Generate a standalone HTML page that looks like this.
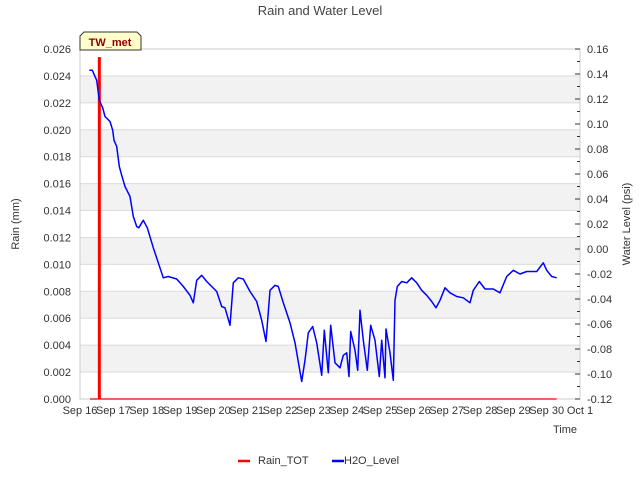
<!DOCTYPE html>
<html><head><meta charset="utf-8"><style>
body{margin:0;background:#fff;}
svg{display:block;font-family:"Liberation Sans","DejaVu Sans",sans-serif;}
</style></head><body>
<svg id="chart" width="640" height="480" viewBox="0 0 640 480"></svg>
<script>
const dayLabels=["Sep 16","Sep 17","Sep 18","Sep 19","Sep 20","Sep 21","Sep 22","Sep 23","Sep 24","Sep 25","Sep 26","Sep 27","Sep 28","Sep 29","Sep 30","Oct 1"];
const leftTicks=[0,0.002,0.004,0.006,0.008,0.010,0.012,0.014,0.016,0.018,0.020,0.022,0.024,0.026];
const rightTicks=[-0.12,-0.10,-0.08,-0.06,-0.04,-0.02,0.00,0.02,0.04,0.06,0.08,0.10,0.12,0.14,0.16];
const rainDays=[0.58];
const rainVals=[0.0254];
const waterDays=[0.28,0.37,0.50,0.58,0.68,0.75,0.90,0.98,1.02,1.10,1.18,1.25,1.35,1.50,1.60,1.70,1.76,1.90,2.02,2.20,2.35,2.50,2.65,2.90,3.10,3.30,3.40,3.50,3.65,3.80,4.10,4.25,4.35,4.50,4.60,4.75,4.90,5.10,5.30,5.45,5.58,5.70,5.85,5.95,6.10,6.30,6.45,6.65,6.75,6.85,6.98,7.10,7.25,7.33,7.45,7.52,7.65,7.80,7.90,8.00,8.07,8.12,8.25,8.33,8.40,8.50,8.62,8.72,8.85,8.98,9.05,9.15,9.18,9.30,9.40,9.45,9.52,9.65,9.80,9.95,10.10,10.25,10.40,10.55,10.68,10.80,10.95,11.10,11.30,11.50,11.70,11.80,11.98,12.15,12.40,12.60,12.80,13.00,13.20,13.40,13.70,13.90,14.00,14.15,14.30];
const waterVals=[0.143,0.143,0.135,0.119,0.113,0.106,0.102,0.095,0.087,0.082,0.066,0.059,0.050,0.042,0.026,0.018,0.017,0.023,0.017,0.001,-0.011,-0.023,-0.022,-0.024,-0.030,-0.037,-0.043,-0.025,-0.021,-0.026,-0.034,-0.046,-0.047,-0.061,-0.027,-0.023,-0.024,-0.034,-0.042,-0.057,-0.074,-0.033,-0.029,-0.030,-0.043,-0.059,-0.075,-0.106,-0.089,-0.067,-0.062,-0.075,-0.101,-0.065,-0.099,-0.061,-0.091,-0.095,-0.085,-0.083,-0.102,-0.066,-0.081,-0.097,-0.049,-0.073,-0.097,-0.061,-0.073,-0.102,-0.073,-0.103,-0.064,-0.083,-0.105,-0.041,-0.030,-0.026,-0.027,-0.023,-0.027,-0.033,-0.037,-0.042,-0.047,-0.041,-0.031,-0.035,-0.038,-0.039,-0.043,-0.033,-0.026,-0.032,-0.032,-0.035,-0.022,-0.017,-0.020,-0.018,-0.018,-0.011,-0.017,-0.022,-0.023];

const X0=80,X1=580,Y0=399,Y1=49;
const xs=d=>X0+(d/15)*(X1-X0);
const yL=v=>Y0-(v/0.026)*(Y0-Y1);
const yR=v=>Y0-((v+0.12)/0.28)*(Y0-Y1);
const svg=document.getElementById('chart');
const NS='http://www.w3.org/2000/svg';
function mk(tag,attrs,parent){const e=document.createElementNS(NS,tag);for(const k in attrs)e.setAttribute(k,attrs[k]);(parent||svg).appendChild(e);return e;}

// bands + grid
for(let i=0;i<leftTicks.length-1;i++){
  if(i%2===1){
    const r=mk('rect',{x:X0,y:yL(leftTicks[i+1]),width:X1-X0,height:yL(leftTicks[i])-yL(leftTicks[i+1]),fill:'#f2f2f2'});
    
    
  }
}
leftTicks.forEach(v=>{
  const l=mk('line',{x1:X0,x2:X1,y1:yL(v),y2:yL(v),stroke:'#dcdcdc','stroke-width':1});
  
  
  const t=mk('text',{x:71,y:yL(v)+4,'text-anchor':'end','font-size':11,fill:'#333'});
  t.textContent=v.toFixed(3);
  
  
});
// frame
const fr=mk('rect',{x:X0,y:Y1,width:X1-X0,height:Y0-Y1,fill:'none',stroke:'#ccc','stroke-width':1});


// right ticks
rightTicks.forEach((v,i)=>{
  const y=yR(v);
  const tk=mk('line',{x1:X1-5,x2:X1,y1:y,y2:y,stroke:'#333'});
  
  
  if(i<rightTicks.length-1){
    const ym=yR(v+0.01);
    const mt=mk('line',{x1:X1-3,x2:X1,y1:ym,y2:ym,stroke:'#333'});
    
    
  }
  const t=mk('text',{x:587,y:y+4,'font-size':11,fill:'#333'});
  t.textContent=v.toFixed(2);
  
  
});
// x labels
dayLabels.forEach((s,i)=>{
  const t=mk('text',{x:xs(i),y:414,'text-anchor':'middle','font-size':11,fill:'#333'});
  t.textContent=s;
  
  
});
// rain baseline
const rb=mk('line',{x1:xs(0.3),x2:xs(14.3),y1:yL(0),y2:yL(0),stroke:'#e00','stroke-width':1.2});


rainDays.forEach((d,i)=>{
  const b=mk('rect',{x:xs(d)-1.5,y:yL(rainVals[i]),width:3,height:yL(0)-yL(rainVals[i]),fill:'#f00'});
  
  
});
// water line
const pts=waterDays.map((d,i)=>xs(d).toFixed(1)+','+yR(waterVals[i]).toFixed(1)).join(' ');
const wl=mk('polyline',{points:pts,fill:'none',stroke:'#00f','stroke-width':1.5,'stroke-linejoin':'round'});


</script>
<svg style="position:absolute;left:0;top:0" width="640" height="480">
<text x="320" y="15" text-anchor="middle" font-size="13" fill="#444">Rain and Water Level</text>
<path d="M84,32 L137,32 L141,36 L141,50 L80,50 L80,36 Z" fill="#ffffcc" stroke="#333"/>
<text x="110" y="46" text-anchor="middle" font-size="11" font-weight="bold" fill="#8b0000">TW_met</text>
<text x="19" y="224" text-anchor="middle" font-size="11" fill="#333" transform="rotate(-90 19 224)">Rain (mm)</text>
<text x="630" y="224" text-anchor="middle" font-size="11" fill="#333" transform="rotate(-90 630 224)">Water Level (psi)</text>
<text x="565" y="433" text-anchor="middle" font-size="11" fill="#333">Time</text>
<g>
<line x1="238" x2="250" y1="461" y2="461" stroke="#f00" stroke-width="2.5"/>
<text x="258" y="464" font-size="11" fill="#333">Rain_TOT</text>
<line x1="332" x2="344" y1="461" y2="461" stroke="#00f" stroke-width="2.5"/>
<text x="344" y="464" font-size="11" fill="#333">H2O_Level</text>
</g>
</svg>
</body></html>
